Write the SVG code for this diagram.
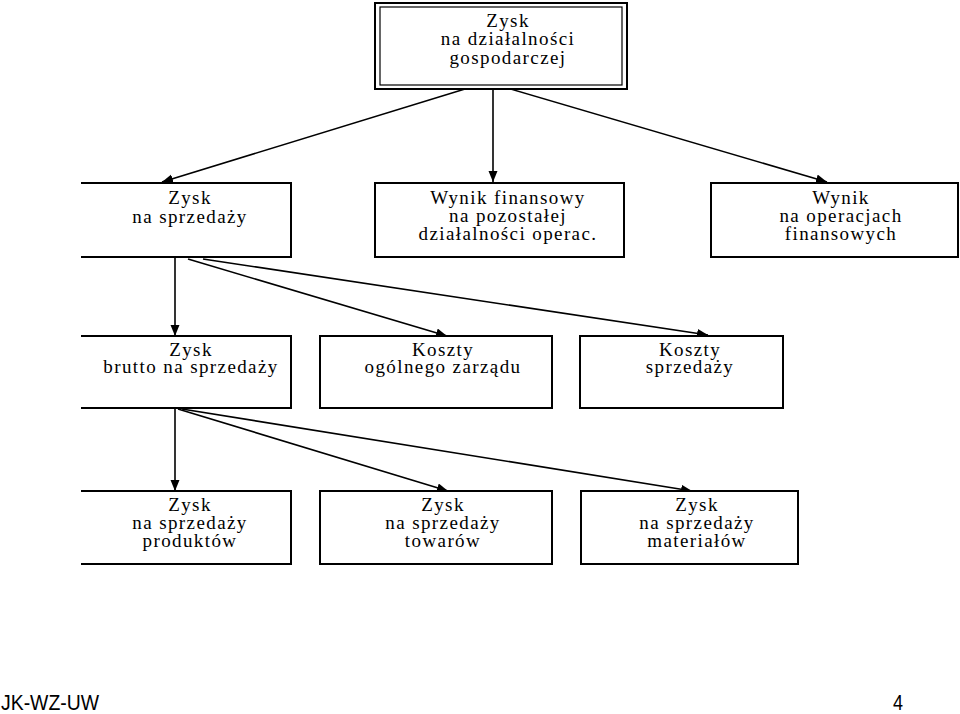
<svg xmlns="http://www.w3.org/2000/svg" width="960" height="714" viewBox="0 0 960 714">
<style>
.box{fill:#fff;stroke:#000;stroke-width:2}
.thin{fill:none;stroke:#000;stroke-width:1.2}
.t{font-family:"Liberation Serif","Times New Roman",serif;font-size:19px;letter-spacing:1.4px;text-anchor:middle;fill:#000}
.c{stroke:#000;stroke-width:1.6;fill:none;marker-end:url(#ah)}
.f{font-family:"Liberation Sans",Arial,sans-serif;font-size:22px;fill:#000}
</style>
<defs>
<marker id="ah" markerUnits="userSpaceOnUse" markerWidth="12" markerHeight="10" refX="11" refY="4.5" orient="auto">
<path d="M0,0 L11,4.5 L0,9 Z" fill="#000"/>
</marker>
</defs>
<rect width="960" height="714" fill="#fff"/>
<g id="connectors">
<line class="c" x1="478" y1="85" x2="162" y2="182"/>
<line class="c" x1="493" y1="85" x2="493" y2="182"/>
<line class="c" x1="497" y1="85" x2="827" y2="182"/>
<line class="c" x1="175" y1="258" x2="175" y2="336"/>
<line class="c" x1="188" y1="259" x2="447" y2="336"/>
<line class="c" x1="203" y1="259" x2="708" y2="335"/>
<line class="c" x1="175" y1="409" x2="175" y2="491"/>
<line class="c" x1="178" y1="409" x2="448" y2="491"/>
<line class="c" x1="182" y1="409" x2="692" y2="491"/>
</g>
<g id="n-top">
<rect class="box" x="375" y="3" width="252" height="86"/>
<rect class="thin" x="380" y="7" width="242" height="78"/>
<text class="t" x="508" y="27">Zysk</text>
<text class="t" x="508" y="45">na działalności</text>
<text class="t" x="508" y="64">gospodarczej</text>
</g>
<g id="n-zysk-sprzedazy">
<path class="box" d="M81,183 H291 V257 H81"/>
<text class="t" x="190" y="204">Zysk</text>
<text class="t" x="190" y="223">na sprzedaży</text>
</g>
<g id="n-wynik-pozostalej">
<rect class="box" x="375" y="183" width="249" height="74"/>
<text class="t" x="508" y="204">Wynik finansowy</text>
<text class="t" x="508" y="222">na pozostałej</text>
<text class="t" x="508" y="240">działalności operac.</text>
</g>
<g id="n-wynik-finansowych">
<rect class="box" x="711" y="183" width="247" height="74"/>
<text class="t" x="841" y="204">Wynik</text>
<text class="t" x="841" y="222">na operacjach</text>
<text class="t" x="841" y="240">finansowych</text>
</g>
<g id="n-brutto">
<path class="box" d="M81,336 H291 V408 H81"/>
<text class="t" x="191" y="356">Zysk</text>
<text class="t" x="191" y="373">brutto na sprzedaży</text>
</g>
<g id="n-koszty-zarzadu">
<rect class="box" x="320" y="336" width="232" height="72"/>
<text class="t" x="443" y="356">Koszty</text>
<text class="t" x="443" y="373">ogólnego zarządu</text>
</g>
<g id="n-koszty-sprzedazy">
<rect class="box" x="580" y="336" width="203" height="72"/>
<text class="t" x="690" y="356">Koszty</text>
<text class="t" x="690" y="373">sprzedaży</text>
</g>
<g id="n-produktow">
<path class="box" d="M81,491 H291 V564 H81"/>
<text class="t" x="190" y="511">Zysk</text>
<text class="t" x="190" y="529">na sprzedaży</text>
<text class="t" x="190" y="547">produktów</text>
</g>
<g id="n-towarow">
<rect class="box" x="320" y="491" width="232" height="73"/>
<text class="t" x="443" y="511">Zysk</text>
<text class="t" x="443" y="529">na sprzedaży</text>
<text class="t" x="443" y="547">towarów</text>
</g>
<g id="n-materialow">
<rect class="box" x="581" y="491" width="217" height="73"/>
<text class="t" x="697" y="511">Zysk</text>
<text class="t" x="697" y="529">na sprzedaży</text>
<text class="t" x="697" y="547">materiałów</text>
</g>
<g id="footer">
<text class="f" x="1" y="710" textLength="98" lengthAdjust="spacingAndGlyphs">JK-WZ-UW</text>
<text class="f" x="893" y="710" textLength="10" lengthAdjust="spacingAndGlyphs">4</text>
</g>
</svg>
